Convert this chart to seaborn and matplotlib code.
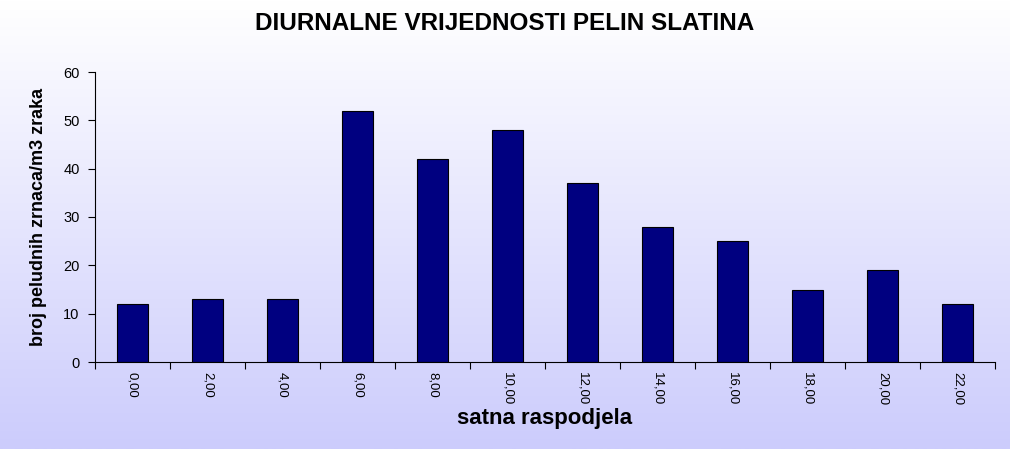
import numpy as np
import pandas as pd
import matplotlib
matplotlib.use("Agg")
import matplotlib.pyplot as plt
import seaborn as sns
from matplotlib.colors import LinearSegmentedColormap

hours = ["0,00", "2,00", "4,00", "6,00", "8,00", "10,00", "12,00", "14,00", "16,00", "18,00", "20,00", "22,00"]
values = [12, 13, 13, 52, 42, 48, 37, 28, 25, 15, 19, 12]
yticks = [0, 10, 20, 30, 40, 50, 60]

sns.set_style("white")
plt.rcParams['font.family'] = ['Liberation Sans', 'DejaVu Sans']
plt.rcParams['text.color'] = 'black'
plt.rcParams['axes.labelcolor'] = 'black'
plt.rcParams['xtick.color'] = 'black'
plt.rcParams['ytick.color'] = 'black'

df = pd.DataFrame({"hour": hours, "value": values})

fig = plt.figure(figsize=(10.1, 4.49), dpi=100)

# gradient background
bg = fig.add_axes([0, 0, 1, 1], zorder=-10)
cmap = LinearSegmentedColormap.from_list("bg", ["#ffffff", "#ccccfc"])
grad = np.linspace(0, 1, 256).reshape(-1, 1)
bg.imshow(grad, aspect="auto", cmap=cmap, extent=[0, 1, 0, 1], origin="upper")
bg.axis("off")

ax = fig.add_axes([95/1010, 1 - 362/449, 900/1010, 290/449])
ax.patch.set_alpha(0)
sns.barplot(data=df, x="hour", y="value", color="#000080", width=0.42,
            edgecolor="black", linewidth=0.8, saturation=1, ax=ax)

ax.set_ylim(0, 60)
ax.set_xlim(-0.5, len(hours) - 0.5)
ax.set_yticks(yticks)
ax.set_yticklabels([str(v) for v in yticks], fontsize=10.5)
ax.set_xticks(np.arange(-0.5, len(hours) + 0.5, 1), minor=False)
ax.set_xticklabels([])
ax.set_xticks(np.arange(len(hours)), minor=True)
ax.set_xticklabels(hours, minor=True, rotation=270, fontsize=9.5)
ax.tick_params(axis="x", which="major", direction="out", length=5, color="black", width=0.8, bottom=True)
ax.tick_params(axis="x", which="minor", length=0, pad=7)
ax.tick_params(axis="y", direction="out", length=5, color="black", width=0.8, left=True, pad=6)

for s in ["top", "right"]:
    ax.spines[s].set_visible(False)
for s in ["left", "bottom"]:
    ax.spines[s].set_color("black")
    ax.spines[s].set_linewidth(0.8)

ax.set_xlabel("satna raspodjela", fontsize=16, fontweight="bold", labelpad=2)
ax.set_ylabel("broj peludnih zrnaca/m3 zraka", fontsize=13, fontweight="bold", labelpad=12)

fig.text(0.5, 1 - 24/449, "DIURNALNE VRIJEDNOSTI PELIN SLATINA", ha="center", va="center",
         fontsize=17.5, fontweight="bold")

fig.savefig("out.png", dpi=100)
